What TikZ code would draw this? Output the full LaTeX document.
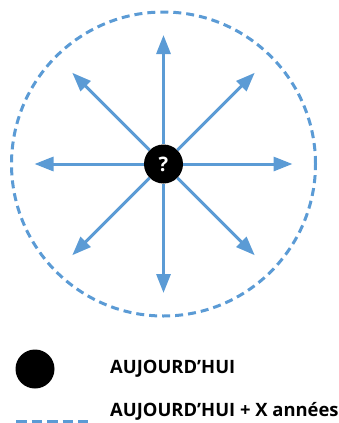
\documentclass[tikz,border=0pt]{standalone}
\usepackage{fontspec}
\setmainfont{Open Sans}
\usepackage{xcolor}
\usepackage{tikz}
\usetikzlibrary{arrows.meta, positioning, calc}

\definecolor{officeblue}{RGB}{91,155,213}

\begin{document}
\begin{tikzpicture}[x=1pt, y=-1pt,
  dot/.style={circle, fill=black, inner sep=0pt, minimum size=39pt},
  ray/.style={draw=officeblue, line width=3pt, -{Triangle[length=19pt, width=14pt]}},
  future/.style={draw=officeblue, line width=3pt, dash pattern=on 8pt off 5pt},
  legendtext/.style={anchor=west, font=\bfseries\fontsize{18.4}{22}\selectfont, inner sep=0pt}
]
\useasboundingbox (0,0) rectangle (339,423);

% Horizon
\node[future, circle, minimum size=304pt, inner sep=0pt] (horizon) at (163.5,164) {};

% Today
\node[dot, text=white, font=\bfseries\fontsize{20}{24}\selectfont] (now) at (163.5,164) {?};

% Rays
\foreach \a in {0,45,...,315} {
   \coordinate (tip\a) at ($(now.center)+(\a:129)$);
   \draw[ray] (now) -- (tip\a);
}

% Legend
\node[dot] (legdot) at (35,369) {};
\node[legendtext] (legnow) at (110,369) {AUJOURD{\char"27}HUI};
\coordinate (dashA) at (16,421);
\coordinate (dashB) at (88,421);
\draw[future, dash pattern=on 10.5pt off 5pt] (dashA) -- (dashB);
\node[legendtext] (legfuture) at (110,411) {AUJOURD{\char"27}HUI + X années};
\end{tikzpicture}
\end{document}
